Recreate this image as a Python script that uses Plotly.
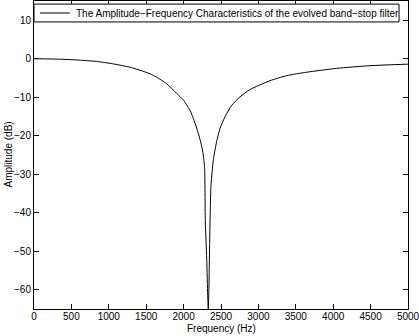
import plotly.graph_objects as go

freq_hz = [0, 200, 400, 600, 838, 1050, 1283, 1450, 1551, 1640, 1774, 1907, 2000, 2041, 2086,
           2130, 2175, 2220, 2255, 2280, 2290, 2309, 2322, 2330, 2338, 2348, 2366, 2398,
           2442, 2487, 2553, 2643, 2754, 2888, 3155, 3378, 3645, 4046, 4492, 5000]
amp_db = [0, -0.05, -0.15, -0.35, -0.7, -1.3, -2.2, -3.2, -3.9, -4.8, -6.5, -9.0, -10.8, -12.0, -13.4,
          -15.5, -18, -21, -24, -28, -42, -52, -61.5, -65, -60, -48, -33, -26.2,
          -21.5, -18.1, -15.1, -12.1, -9.9, -8.0, -5.7, -4.4, -3.5, -2.5, -1.8, -1.4]

x_ticks = [0, 500, 1000, 1500, 2000, 2500, 3000, 3500, 4000, 4500, 5000]
y_ticks = [-60, -50, -40, -30, -20, -10, 0, 10]
y_labels = ["\u221260", "\u221250", "\u221240", "\u221230", "\u221220", "\u221210", "0", "10"]
series_name = "The Amplitude\u2212Frequency Characteristics of the evolved band\u2212stop filter"

fig = go.Figure()
fig.add_trace(go.Scatter(
    x=freq_hz, y=amp_db, mode="lines",
    line=dict(color="black", width=1, shape="spline", smoothing=0.6),
    name=series_name, showlegend=False,
))

axis_common = dict(
    showline=True, linecolor="black", linewidth=1, mirror="ticks",
    ticks="inside", ticklen=5, tickcolor="black", showgrid=False, zeroline=False,
    automargin=False, ticklabeloverflow="allow",
    tickfont=dict(family="Liberation Sans, Arial", size=10, color="black"),
)

# legend box drawn as shapes + text (tight MATLAB-style legend)
fig.add_shape(type="rect", xref="paper", yref="paper", x0=0, x1=0.976, y0=0.932, y1=0.990,
              line=dict(color="black", width=1), fillcolor="white", layer="above")
fig.add_shape(type="line", xref="paper", yref="paper", x0=0.016, x1=0.096, y0=0.961, y1=0.961,
              line=dict(color="black", width=1), layer="above")

fig.update_layout(
    width=419, height=336,
    margin=dict(l=34, r=11, t=1, b=27),
    paper_bgcolor="white", plot_bgcolor="white",
    font=dict(family="Liberation Sans, Arial", size=10, color="black"),
    showlegend=False,
    xaxis=dict(range=[0, 5000], tickvals=x_ticks, ticklabelstandoff=-2, **axis_common),
    yaxis=dict(range=[-65, 15], tickvals=y_ticks, ticktext=y_labels, **axis_common),
    annotations=[
        dict(text=series_name, xref="paper", yref="paper", x=0.108, y=0.961,
             xanchor="left", yanchor="middle", showarrow=False, font=dict(size=10)),
        dict(text="Frequency (Hz)", xref="paper", yref="paper", x=0.5, y=0,
             yshift=-27, xanchor="center", yanchor="bottom", showarrow=False,
             font=dict(size=10)),
        dict(text="Amplitude (dB)", xref="paper", yref="paper", x=0, y=0.5,
             xshift=-34, xanchor="left", yanchor="middle", textangle=-90,
             showarrow=False, font=dict(size=10)),
    ],
)

fig.write_html("out.html", config={"displayModeBar": False},
               post_script="document.body.style.margin='0';document.body.style.overflow='hidden';")
